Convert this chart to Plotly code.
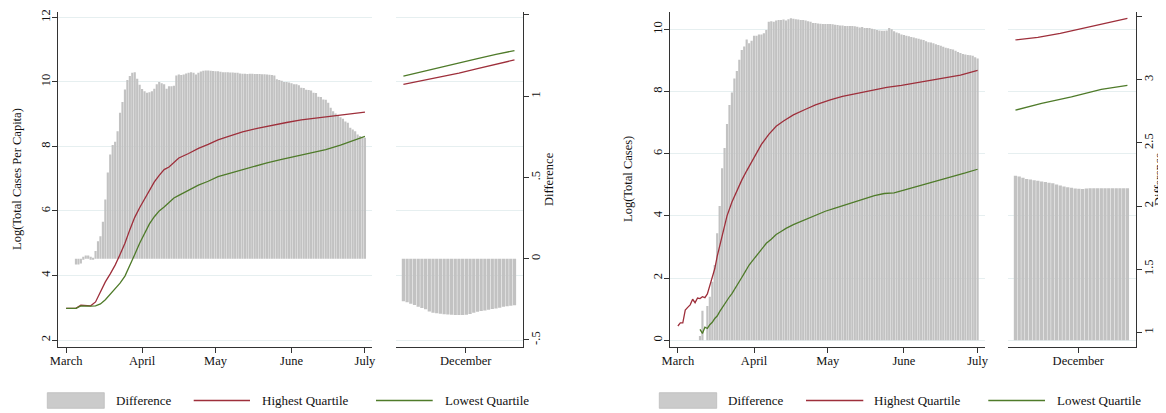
import pandas as pd
import plotly.graph_objects as go

FONT = "Liberation Serif"
RED = "#9e2f3b"
GREEN = "#4f7b2a"
BAR = "#c2c2c2"
GRID = "#e6eff0"
AXIS = "#333333"

MONTH_TICKS = ["2020-03-01", "2020-04-01", "2020-05-01", "2020-06-01", "2020-07-01"]
MONTH_LABELS = ["March", "April", "May", "June", "July"]
DEC_TICK = ["2020-12-17 20:00"]
DEC_LABEL = ["December"]

SPRING_START = "2020-03-01"
DEC_START = "2020-12-01"

# ---------------- Panel A: Log(Total Cases Per Capita) ----------------
A_DIFF_START = "2020-03-05"
A_DIFF = [
    -0.035, -0.035, -0.03, 0.012, 0.02, 0.02, 0.012, 0.005, 0.047, 0.108,
    0.139, 0.228, 0.365, 0.531, 0.642, 0.70, 0.72, 0.785, 0.898, 0.964,
    1.042, 1.099, 1.124, 1.145, 1.148, 1.108, 1.07, 1.045, 1.03, 1.022,
    1.025, 1.031, 1.046, 1.073, 1.087, 1.079, 1.073, 1.046, 1.062, 1.062,
    1.065, 1.128, 1.134, 1.130, 1.134, 1.140, 1.145, 1.148, 1.145, 1.134,
    1.145, 1.152, 1.157, 1.158, 1.158, 1.157, 1.155, 1.153, 1.153, 1.150,
    1.148, 1.148, 1.147, 1.146, 1.146, 1.145, 1.145, 1.140, 1.138, 1.138,
    1.137, 1.138, 1.138, 1.137, 1.136, 1.136, 1.135, 1.135, 1.134, 1.132,
    1.130, 1.128, 1.105, 1.099, 1.095, 1.087, 1.087, 1.085, 1.080, 1.073,
    1.073, 1.068, 1.052, 1.050, 1.040, 1.038, 1.035, 1.022, 1.020, 0.997,
    0.995, 0.980, 0.978, 0.960, 0.929, 0.908, 0.894, 0.882, 0.870, 0.862,
    0.845, 0.837, 0.806, 0.795, 0.785, 0.765, 0.755, 0.745, 0.745,
]
A_HIGH_DAYS = [0, 4, 6, 8, 10, 12, 14, 16, 18, 20, 22, 24, 26, 28, 30, 32, 34, 36, 38, 40,
               42, 44, 46, 50, 54, 58, 62, 66, 72, 78, 84, 90, 96, 102, 108, 114, 122]
A_HIGH = [2.98, 2.98, 3.08, 3.06, 3.06, 3.18, 3.5, 3.8, 4.05, 4.32, 4.65, 5.0, 5.42, 5.8,
          6.1, 6.37, 6.63, 6.9, 7.1, 7.28, 7.36, 7.5, 7.64, 7.78, 7.94, 8.06, 8.2, 8.3,
          8.45, 8.56, 8.66, 8.74, 8.82, 8.88, 8.94, 9.0, 9.06]
A_LOW_DAYS = [0, 4, 6, 8, 10, 12, 14, 16, 18, 20, 22, 24, 26, 28, 30, 32, 34, 36, 38, 40,
              42, 44, 46, 50, 54, 58, 62, 66, 70, 76, 82, 88, 94, 100, 106, 112, 117, 122]
A_LOW = [2.98, 2.98, 3.06, 3.05, 3.05, 3.06, 3.12, 3.25, 3.42, 3.58, 3.76, 3.98, 4.3, 4.65,
         5.0, 5.3, 5.6, 5.82, 6.0, 6.12, 6.26, 6.4, 6.48, 6.63, 6.8, 6.92, 7.06, 7.15, 7.24,
         7.37, 7.49, 7.6, 7.7, 7.78, 7.9, 8.04, 8.17, 8.31]
A_DEC_DIFF = [
    -0.261, -0.268, -0.277, -0.285, -0.295, -0.303, -0.311, -0.325, -0.333, -0.336,
    -0.339, -0.341, -0.343, -0.345, -0.346, -0.347, -0.347, -0.345, -0.340, -0.333,
    -0.327, -0.322, -0.318, -0.314, -0.310, -0.307, -0.302, -0.295, -0.292, -0.290,
    -0.287,
]
A_DEC_HIGH_DAYS = [0, 5, 10, 15, 20, 25, 30]
A_DEC_HIGH = [9.92, 10.03, 10.14, 10.27, 10.41, 10.55, 10.68]
A_DEC_LOW_DAYS = [0, 5, 10, 15, 20, 25, 30]
A_DEC_LOW = [10.18, 10.32, 10.46, 10.59, 10.72, 10.85, 10.97]

# ---------------- Panel B: Log(Total Cases) ----------------
B_DIFF_START = "2020-03-10"
B_BASE = 0.937
B_DIFF = [
    0.97, 1.171, None, 1.208, 1.282, 1.401, 1.533, 1.784, 2.0, 2.30,
    2.46, 2.65, 2.80, 2.90, 3.01, 3.07, 3.16, 3.237, 3.265, 3.32,
    3.29, 3.31, 3.35, 3.35, 3.36, 3.36, 3.37, 3.395, 3.46, 3.465,
    3.46, 3.47, 3.475, 3.475, 3.478, 3.47, 3.48, 3.488, 3.485, 3.48,
    3.478, 3.475, 3.475, 3.47, 3.465, 3.46, 3.45, 3.45, 3.447, 3.445,
    3.443, 3.443, 3.443, 3.443, 3.44, 3.437, 3.435, 3.43, 3.43, 3.427,
    3.427, 3.427, 3.427, 3.425, 3.42, 3.415, 3.418, 3.41, 3.41, 3.41,
    3.405, 3.40, 3.395, 3.392, 3.39, 3.39, 3.392, 3.41, 3.40, 3.385,
    3.375, 3.37, 3.36, 3.355, 3.35, 3.345, 3.34, 3.335, 3.33, 3.325,
    3.32, 3.315, 3.305, 3.298, 3.295, 3.29, 3.283, 3.277, 3.27, 3.262,
    3.255, 3.25, 3.245, 3.24, 3.23, 3.22, 3.212, 3.205, 3.2, 3.197,
    3.195, 3.19, 3.18, 3.17,
]
B_HIGH_DAYS = [0, 1, 2, 3, 4, 5, 6, 7, 8, 9, 10, 11, 12, 13, 14, 15, 16, 17, 18, 19, 20,
               22, 24, 26, 28, 30, 32, 34, 37, 40, 43, 47, 52, 56, 62, 67, 73, 79, 85, 91,
               97, 103, 108, 115, 122]
B_HIGH = [0.46, 0.56, 0.56, 0.97, 1.06, 1.14, 1.32, 1.21, 1.36, 1.34, 1.40, 1.37, 1.49,
          1.75, 2.0, 2.3, 2.7, 3.05, 3.4, 3.7, 4.0, 4.45, 4.82, 5.15, 5.45, 5.75, 6.0, 6.3,
          6.62, 6.88, 7.05, 7.25, 7.43, 7.57, 7.73, 7.84, 7.94, 8.04, 8.13, 8.2, 8.28,
          8.35, 8.42, 8.53, 8.68]
B_LOW_DAYS = [9, 10, 11, 12, 13, 14, 15, 16, 17, 18, 19, 20, 21, 22, 23, 24, 25, 26, 27,
              28, 29, 30, 31, 32, 33, 34, 35, 36, 38, 40, 42, 44, 47, 50, 53, 56, 60, 64,
              68, 72, 76, 80, 84, 88, 92, 97, 104, 112, 117, 122]
B_LOW = [0.35, 0.22, 0.42, 0.38, 0.5, 0.58, 0.7, 0.78, 0.92, 1.05, 1.18, 1.3, 1.4, 1.5,
         1.62, 1.75, 1.88, 2.02, 2.15, 2.3, 2.42, 2.52, 2.62, 2.72, 2.85, 2.95, 3.05, 3.12,
         3.25, 3.4, 3.5, 3.6, 3.72, 3.82, 3.93, 4.03, 4.15, 4.25, 4.35, 4.45, 4.55, 4.65,
         4.72, 4.74, 4.83, 4.94, 5.07, 5.26, 5.38, 5.50]
B_DEC_DIFF = [
    2.24, 2.235, 2.225, 2.215, 2.21, 2.205, 2.2, 2.195, 2.19, 2.185,
    2.18, 2.17, 2.162, 2.155, 2.15, 2.145, 2.14, 2.137, 2.136, 2.14,
    2.142, 2.142, 2.142, 2.142, 2.142, 2.142, 2.142, 2.142, 2.142, 2.142,
    2.142,
]
B_DEC_HIGH_DAYS = [0, 6, 12, 17, 24, 30]
B_DEC_HIGH = [9.66, 9.74, 9.87, 10.0, 10.17, 10.35]
B_DEC_LOW_DAYS = [0, 7, 15, 23, 30]
B_DEC_LOW = [7.40, 7.62, 7.83, 8.07, 8.2]


def days_to_dates(start, days):
    return pd.Timestamp(start) + pd.to_timedelta(days, unit="D")


def consecutive(start, n):
    return pd.date_range(start, periods=n, freq="D")


fig = go.Figure()


def add_panel(xm, xd, ydiff, ylog, diff, diff_start, dec_diff, high_d, high, low_d, low,
              dhigh_d, dhigh, dlow_d, dlow, base):
    yb = [None if v is None else v - base for v in diff]
    fig.add_trace(go.Bar(x=consecutive(diff_start, len(diff)), y=yb, base=base,
                         marker=dict(color=BAR, line=dict(width=0)),
                         xaxis=xm, yaxis=ydiff, showlegend=False, hoverinfo="skip"))
    ybd = [v - base for v in dec_diff]
    fig.add_trace(go.Bar(x=consecutive(DEC_START, len(dec_diff)), y=ybd, base=base,
                         marker=dict(color=BAR, line=dict(width=0)),
                         xaxis=xd, yaxis=ydiff, showlegend=False, hoverinfo="skip"))
    for xs, ys, col, ax in [
        (days_to_dates(SPRING_START, high_d), high, RED, xm),
        (days_to_dates(SPRING_START, low_d), low, GREEN, xm),
        (days_to_dates(DEC_START, dhigh_d), dhigh, RED, xd),
        (days_to_dates(DEC_START, dlow_d), dlow, GREEN, xd),
    ]:
        fig.add_trace(go.Scatter(x=xs, y=ys, mode="lines", line=dict(color=col, width=1.3),
                                 xaxis=ax, yaxis=ylog, showlegend=False, hoverinfo="skip"))


add_panel("x", "x2", "y", "y2", A_DIFF, A_DIFF_START, A_DEC_DIFF, A_HIGH_DAYS, A_HIGH,
          A_LOW_DAYS, A_LOW, A_DEC_HIGH_DAYS, A_DEC_HIGH, A_DEC_LOW_DAYS, A_DEC_LOW, 0)
add_panel("x3", "x4", "y3", "y4", B_DIFF, B_DIFF_START, B_DEC_DIFF, B_HIGH_DAYS, B_HIGH,
          B_LOW_DAYS, B_LOW, B_DEC_HIGH_DAYS, B_DEC_HIGH, B_DEC_LOW_DAYS, B_DEC_LOW, B_BASE)

# The page body has an 8px margin, so the figure is sized to fill the rest of the window.
OFF = 8
W, H = 1166 - OFF, 413 - OFF


def px(X):
    return (X - OFF) / W


def py(Y):
    return 1 - (Y - OFF) / H


YDOM = [py(347.3), py(11.7)]
tickfont = dict(family=FONT, size=12.5, color="#111111")

spring_range = [pd.Timestamp(SPRING_START) - pd.Timedelta(hours=77),
                pd.Timestamp(SPRING_START) + pd.Timedelta(hours=122 * 24 + 72)]
dec_range = [pd.Timestamp(DEC_START) - pd.Timedelta(hours=48),
             pd.Timestamp(DEC_START) + pd.Timedelta(hours=32.3 * 24)]


def xaxis_cfg(dom, rng, tv, tt, anchor):
    return dict(domain=[px(dom[0]), px(dom[1])], anchor=anchor, type="date", range=rng,
                tickmode="array", tickvals=tv, ticktext=tt, ticks="outside", ticklen=5,
                tickcolor=AXIS, showline=True, linecolor=AXIS, linewidth=1.3,
                showgrid=False, zeroline=False, tickfont=tickfont, automargin=False,
                ticklabelstandoff=-3)


def diff_axis(rng, tv, tt, anchor):
    return dict(domain=YDOM, anchor=anchor, side="right", range=rng, tickmode="array",
                tickvals=tv, ticktext=tt, tickangle=-90, ticks="outside", ticklen=5,
                tickcolor=AXIS, showline=True, linecolor=AXIS, linewidth=1.3,
                showgrid=False, zeroline=False, tickfont=tickfont, automargin=False,
                ticklabelstandoff=-4)


def log_axis(rng, tv, over, anchor):
    return dict(overlaying=over, anchor=anchor, side="left", range=rng, tickmode="array",
                tickvals=tv, ticktext=[str(v) for v in tv], tickangle=-90, ticks="outside",
                ticklen=5, tickcolor=AXIS, showline=True, linecolor=AXIS, linewidth=1.3,
                showgrid=True, gridcolor=GRID, gridwidth=1.2, zeroline=False,
                tickfont=tickfont, automargin=False, ticklabelstandoff=-3)


fig.update_layout(
    template="none",
    width=W, height=H, margin=dict(l=0, r=0, t=0, b=0, autoexpand=False),
    paper_bgcolor="white", plot_bgcolor="white", bargap=0.12,
    font=dict(family=FONT, color="#111111"),
    xaxis=xaxis_cfg((58.3, 372.3), spring_range, MONTH_TICKS, MONTH_LABELS, "y"),
    xaxis2=xaxis_cfg((396, 523), dec_range, DEC_TICK, DEC_LABEL, "y"),
    xaxis3=xaxis_cfg((670, 985), spring_range, MONTH_TICKS, MONTH_LABELS, "y3"),
    xaxis4=xaxis_cfg((1008, 1136), dec_range, DEC_TICK, DEC_LABEL, "y3"),
    yaxis=diff_axis([-0.545, 1.520], [-0.5, 0, 0.5, 1, 1.5], ["-.5", "0", ".5", "1", "1.5"], "x2"),
    yaxis2=log_axis([1.774, 12.174], [2, 4, 6, 8, 10, 12], "y", "x"),
    yaxis3=diff_axis([0.881, 3.540], [1, 1.5, 2, 2.5, 3, 3.5], ["1", "1.5", "2", "2.5", "3", "3.5"], "x4"),
    yaxis4=log_axis([-0.225, 10.566], [0, 2, 4, 6, 8, 10], "y3", "x3"),
)

# axis titles
for xp, text in [(17, "Log(Total Cases Per Capita)"), (549, "Difference"),
                 (628, "Log(Total Cases)"), (1159, "Difference")]:
    fig.add_annotation(x=px(xp), y=py(179), xref="paper", yref="paper", text=text,
                       textangle=-90, showarrow=False, xanchor="center", yanchor="middle",
                       font=dict(family=FONT, size=12.5, color="#111111"))

# legends (drawn as paper-space key)
LEG_Y0, LEG_Y1, LEG_YC = py(408.3), py(392.7), py(400.5)
legend_items = [
    # (key x0, key x1, kind, text x, label)
    (47.3, 104.3, "box", 114, "Difference"),
    (193.7, 250, RED, 260, "Highest Quartile"),
    (376, 432.7, GREEN, 442.7, "Lowest Quartile"),
    (659.3, 716.7, "box", 726, "Difference"),
    (806, 863.3, RED, 872, "Highest Quartile"),
    (988.3, 1045, GREEN, 1055, "Lowest Quartile"),
]
for x0, x1, kind, tx, label in legend_items:
    if kind == "box":
        fig.add_shape(type="rect", xref="paper", yref="paper", x0=px(x0), x1=px(x1),
                      y0=LEG_Y0, y1=LEG_Y1, fillcolor="#cbcbcb",
                      line=dict(color="#bdbdbd", width=0.8))
    else:
        fig.add_shape(type="line", xref="paper", yref="paper", x0=px(x0), x1=px(x1),
                      y0=LEG_YC, y1=LEG_YC, line=dict(color=kind, width=1.3))
    fig.add_annotation(x=px(tx), y=LEG_YC, xref="paper", yref="paper", text=label,
                       showarrow=False, xanchor="left", yanchor="middle",
                       font=dict(family=FONT, size=13, color="#111111"))

fig.write_html("out.html")
